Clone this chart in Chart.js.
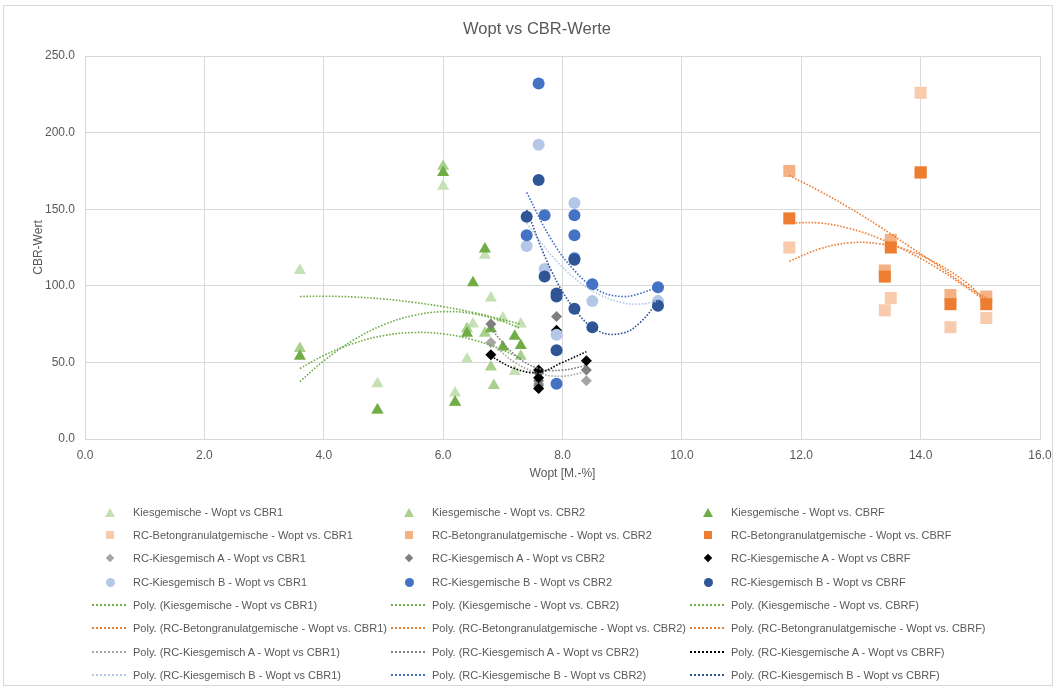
<!DOCTYPE html>
<html><head><meta charset="utf-8">
<script src="https://cdn.jsdelivr.net/npm/chart.js@4.4.0/dist/chart.umd.min.js"></script>
<style>
html,body{margin:0;padding:0;background:#fff;}
#wrap{position:relative;width:1057px;height:689px;font-family:"Liberation Sans",Arial,sans-serif;color:#595959;overflow:hidden;}
#frame{position:absolute;left:3px;top:5px;width:1048px;height:679px;border:1px solid #d9d9d9;}
#c{position:absolute;left:0;top:0;}
#title{position:absolute;left:0;width:1074px;top:18px;text-align:center;font-size:16.5px;line-height:20px;}
.li{position:absolute;font-size:11px;line-height:14px;white-space:nowrap;height:14px;}
.li .t{position:absolute;top:0;}
.mk{position:absolute;}
</style></head>
<body><div id="wrap"><div id="frame"></div><canvas id="c" width="1057" height="689"></canvas><div id="title">Wopt vs CBR-Werte</div><div id="legend"></div></div>
<script>
// ---- data ----
const kiesX1 = [3.6, 4.9, 6.0, 6.2, 6.4, 6.5, 6.7, 6.8, 7.0, 7.2, 7.3];
const kiesCBR1 = [110, 36, 165, 30, 52, 75, 120, 92, 79, 44, 75];
const kiesX2 = [3.6, 4.9, 6.0, 6.2, 6.4, 6.7, 6.8, 6.85, 7.3];
const kiesCBR2 = [59, 19, 178, 24, 72, 69, 47, 35, 54];
const kiesXF = [3.6, 4.9, 6.0, 6.2, 6.4, 6.5, 6.7, 6.8, 7.0, 7.2, 7.3];
const kiesCBRF = [54, 19, 174, 24, 69, 102, 124, 72, 60, 67, 61];

const betonX = [11.8, 13.4, 13.5, 14.0, 14.5, 15.1];
const betonCBR1 = [125, 84, 92, 226, 73, 79];
const betonCBR2 = [175, 110, 130, 174, 94, 93];
const betonCBRF = [144, 106, 125, 174, 88, 88];

const aX = [6.8, 7.6, 7.6, 7.6, 7.9, 8.4];
const aCBR1 = [63, 44, 36, 33, 70, 38];
const aCBR2 = [75, 43, 38, 35, 80, 45];
const aCBRF = [55, 45, 40, 33, 71, 51];

const bX1 = [7.4, 7.6, 7.7, 7.9, 8.2, 8.5, 9.6];
const bCBR1 = [126, 192, 111, 68, 154, 90, 90];
const bX2 = [7.4, 7.6, 7.7, 7.9, 8.2, 8.2, 8.2, 8.5, 9.6];
const bCBR2 = [133, 232, 146, 36, 146, 133, 118, 101, 99];
const bXF = [7.4, 7.6, 7.7, 7.9, 7.9, 7.9, 8.2, 8.2, 8.5, 9.6];
const bCBRF = [145, 169, 106, 95, 93, 58, 117, 85, 73, 87];

// trendline curves
const kiesTrendX = [3.6, 4.0, 4.5, 5.0, 5.5, 6.0, 6.5, 7.0, 7.3];
const kiesTrend1 = [93, 93.2, 92.7, 91.4, 89.2, 86.4, 82.6, 77.9, 75];
const kiesTrend2 = [46, 54.5, 62.4, 67.5, 69.5, 68.6, 64.8, 58, 52.6];
const kiesTrendF = [37.4, 51, 64.6, 74.5, 80.6, 83.1, 81.8, 76.8, 72];
const betonTrendX = [11.8, 12.3, 12.8, 13.3, 13.8, 14.3, 14.8, 15.1];
const betonTrend1 = [116, 124, 128, 127.5, 123, 114, 101, 89];
const betonTrend2 = [172, 162, 151, 139, 126, 113, 99, 92];
const betonTrendF = [141, 141, 137.5, 131, 122, 111, 98, 90];
const aTrendX = [6.8, 7.2, 7.6, 8.0, 8.4];
const aTrend1 = [63, 50, 43, 41, 44];
const aTrend2 = [72, 55, 46, 45, 48];
const aTrendF = [54, 46, 43.5, 50, 57];
const bTrendX = [7.4, 7.8, 8.2, 8.6, 9.0, 9.3, 9.6];
const bTrend1 = [141, 120.6, 105.1, 94.6, 89, 88.1, 90];
const bTrend2 = [161, 131, 110, 97, 93, 95, 99.5];
const bTrendF = [149.5, 111, 84.8, 70.5, 69, 76, 90];

const xTicks = [0, 2, 4, 6, 8, 10, 12, 14, 16];
const yTicks = [0, 50, 100, 150, 200, 250];

// ---- styles ----
const C = {
  k1:'#c5e0b4', k2:'#a9d18e', kF:'#70ad47',
  b1:'#f8cbad', b2:'#f4b183', bF:'#ed7d31',
  a1:'#a5a5a5', a2:'#7f7f7f', aF:'#000000',
  r1:'#b4c7e7', r2:'#4472c4', rF:'#2f5597'
};
const pts = (xs, ys) => xs.map((x, i) => ({x: x, y: ys[i]}));
let ord = 0;
function mk(label, xs, ys, color, style, r){
  ord--;
  return {label, data: pts(xs, ys), pointStyle: style, pointRadius: r, pointHoverRadius: r,
    backgroundColor: color, borderColor: color, pointBorderWidth: 0, borderWidth: 0, showLine: false, order: ord};
}
function tr(label, xs, ys, color){
  ord--;
  return {label, data: pts(xs, ys), showLine: true, pointRadius: 0, borderColor: color, backgroundColor: color,
    borderWidth: 1.6, borderDash: [1.6, 1.6], tension: 0.4, fill: false, order: ord};
}
const datasets = [
  mk('Kiesgemische - Wopt vs CBR1', kiesX1, kiesCBR1, C.k1, 'triangle', 7),
  mk('Kiesgemische - Wopt vs. CBR2', kiesX2, kiesCBR2, C.k2, 'triangle', 7),
  mk('Kiesgemische - Wopt vs. CBRF', kiesXF, kiesCBRF, C.kF, 'triangle', 7),
  mk('RC-Betongranulatgemische - Wopt vs. CBR1', betonX, betonCBR1, C.b1, 'rect', 8.5),
  mk('RC-Betongranulatgemische - Wopt vs. CBR2', betonX, betonCBR2, C.b2, 'rect', 8.5),
  mk('RC-Betongranulatgemische - Wopt vs. CBRF', betonX, betonCBRF, C.bF, 'rect', 8.5),
  mk('RC-Kiesgemisch A - Wopt vs CBR1', aX, aCBR1, C.a1, 'rectRot', 5.5),
  mk('RC-Kiesgemisch A - Wopt vs CBR2', aX, aCBR2, C.a2, 'rectRot', 5.5),
  mk('RC-Kiesgemische A - Wopt vs CBRF', aX, aCBRF, C.aF, 'rectRot', 5.5),
  mk('RC-Kiesgemisch B - Wopt vs CBR1', bX1, bCBR1, C.r1, 'circle', 6),
  mk('RC-Kiesgemische B - Wopt vs CBR2', bX2, bCBR2, C.r2, 'circle', 6),
  mk('RC-Kiesgemisch B - Wopt vs CBRF', bXF, bCBRF, C.rF, 'circle', 6),
  tr('Poly. (Kiesgemische - Wopt vs CBR1)', kiesTrendX, kiesTrend1, C.kF),
  tr('Poly. (Kiesgemische - Wopt vs. CBR2)', kiesTrendX, kiesTrend2, C.kF),
  tr('Poly. (Kiesgemische - Wopt vs. CBRF)', kiesTrendX, kiesTrendF, C.kF),
  tr('Poly. (RC-Betongranulatgemische - Wopt vs. CBR1)', betonTrendX, betonTrend1, C.bF),
  tr('Poly. (RC-Betongranulatgemische - Wopt vs. CBR2)', betonTrendX, betonTrend2, C.bF),
  tr('Poly. (RC-Betongranulatgemische - Wopt vs. CBRF)', betonTrendX, betonTrendF, C.bF),
  tr('Poly. (RC-Kiesgemisch A - Wopt vs CBR1)', aTrendX, aTrend1, C.a1),
  tr('Poly. (RC-Kiesgemisch A - Wopt vs CBR2)', aTrendX, aTrend2, C.a2),
  tr('Poly. (RC-Kiesgemische A - Wopt vs CBRF)', aTrendX, aTrendF, C.aF),
  tr('Poly. (RC-Kiesgemisch B - Wopt vs CBR1)', bTrendX, bTrend1, C.r1),
  tr('Poly. (RC-Kiesgemische B - Wopt vs CBR2)', bTrendX, bTrend2, C.r2),
  tr('Poly. (RC-Kiesgemisch B - Wopt vs CBRF)', bTrendX, bTrendF, C.rF)
];

const FONT = '"Liberation Sans", Arial, sans-serif';
const TXT = '#595959';
const GRID = '#d9d9d9';

new Chart(document.getElementById('c'), {
  type: 'scatter',
  data: {datasets},
  options: {
    responsive: false, animation: false, events: [],
    layout: {autoPadding: false, padding: {left: 0, top: 56, right: 17, bottom: 200}},
    plugins: {legend: {display: false}, tooltip: {enabled: false}, title: {display: false}},
    scales: {
      x: {type: 'linear', min: 0, max: 16,
        afterBuildTicks: s => { s.ticks = xTicks.map(v => ({value: v})); },
        afterFit: s => { s.height = 50; s.paddingLeft = 0; s.paddingRight = 0; },
        ticks: {callback: v => Number(v).toFixed(1), color: TXT, font: {family: FONT, size: 12}, padding: 9, maxRotation: 0},
        grid: {color: GRID, drawTicks: false, lineWidth: 1},
        border: {color: GRID},
        title: {display: true, text: 'Wopt [M.-%]', color: TXT, font: {family: FONT, size: 12}, padding: {top: 0, bottom: 8}}
      },
      y: {type: 'linear', min: 0, max: 250,
        afterBuildTicks: s => { s.ticks = yTicks.map(v => ({value: v})); },
        afterFit: s => { s.width = 85; s.paddingTop = 0; s.paddingBottom = 0; },
        ticks: {callback: v => Number(v).toFixed(1), color: TXT, font: {family: FONT, size: 12}, padding: 10},
        grid: {color: GRID, drawTicks: false, lineWidth: 1},
        border: {color: GRID},
        title: {display: true, text: 'CBR-Wert', color: TXT, font: {family: FONT, size: 12}, padding: {top: 31, bottom: 0}}
      }
    }
  }
});

// ---- legend (HTML) ----
const colX = [92, 391, 690];
const rowY = [512, 535, 558, 582, 605, 628, 652, 675];
const legend = document.getElementById('legend');
datasets.forEach((d, i) => {
  const row = Math.floor(i / 3), col = i % 3;
  const el = document.createElement('div');
  el.className = 'li';
  el.style.left = colX[col] + 'px';
  el.style.top = (rowY[row] - 7) + 'px';
  const m = document.createElement('span');
  m.className = 'mk';
  const c = d.borderColor;
  if (d.showLine) {
    m.style.cssText = 'left:0;top:6px;width:34px;height:0;border-top:2px dotted ' + c + ';';
  } else if (d.pointStyle === 'triangle') {
    m.style.cssText = 'left:13px;top:3px;width:0;height:0;border-left:5px solid transparent;border-right:5px solid transparent;border-bottom:9px solid ' + c + ';';
  } else if (d.pointStyle === 'rect') {
    m.style.cssText = 'left:14px;top:3px;width:8px;height:8px;background:' + c + ';';
  } else if (d.pointStyle === 'rectRot') {
    m.style.cssText = 'left:15px;top:4px;width:6px;height:6px;background:' + c + ';transform:rotate(45deg);';
  } else {
    m.style.cssText = 'left:13.5px;top:2.5px;width:9px;height:9px;border-radius:50%;background:' + c + ';';
  }
  el.appendChild(m);
  const t = document.createElement('span');
  t.className = 't';
  t.style.left = '41px';
  t.textContent = d.label;
  el.appendChild(t);
  legend.appendChild(el);
});
</script>
</body></html>
